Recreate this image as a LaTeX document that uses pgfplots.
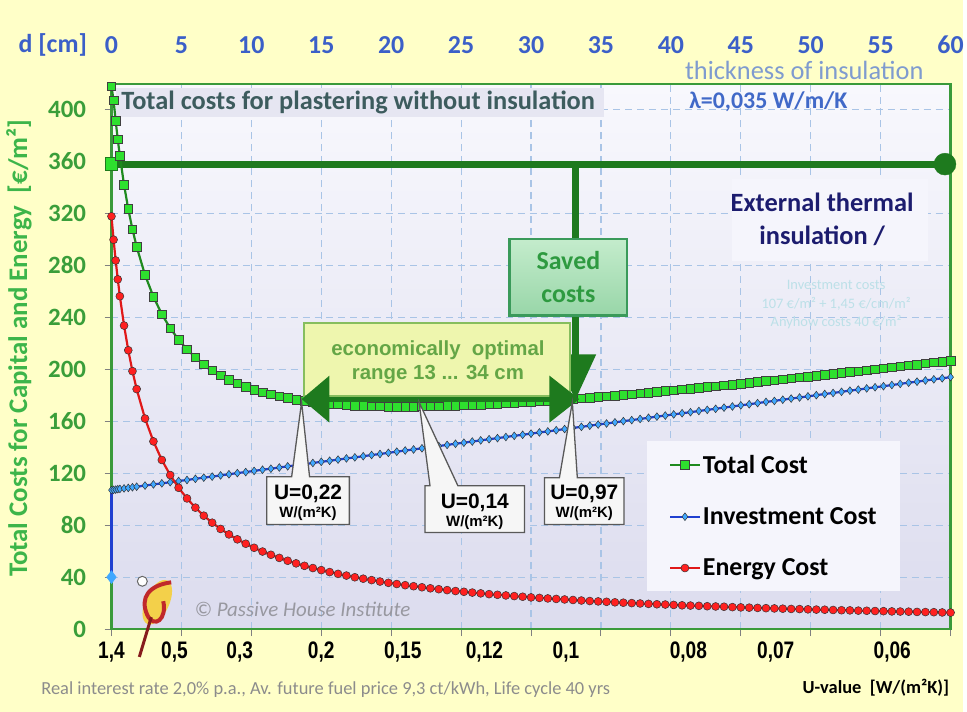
\documentclass[border=0pt]{standalone}
\usepackage{fontspec}
\setmainfont{Carlito}
\newfontfamily\arialfont{Liberation Sans}
\newfontfamily\narrowfont{Liberation Sans}[FakeStretch=0.8]
\usepackage{pgfplots}
\pgfplotsset{compat=1.18}
\usepackage{pgfplotstable}
\usetikzlibrary{arrows.meta}

\definecolor{bgyellow}{HTML}{FFFFC8}
\definecolor{framegreen}{HTML}{3A9A3A}
\definecolor{darkgreen}{HTML}{1E7A1E}
\definecolor{totalfill}{HTML}{2EE02E}
\definecolor{totalline}{HTML}{1E8A1E}
\definecolor{invline}{HTML}{2040D0}
\definecolor{invfill}{HTML}{40A8FF}
\definecolor{energyline}{HTML}{E01818}
\definecolor{energyfill}{HTML}{FF2020}
\definecolor{ytickgreen}{HTML}{3A9E3A}
\definecolor{ylabelgreen}{HTML}{3DB54A}
\definecolor{topblue}{HTML}{3B5FC8}
\definecolor{gridblue}{HTML}{A9C4E6}
\definecolor{plottop}{HTML}{F8F8FD}
\definecolor{plotbot}{HTML}{DCDCEE}
\definecolor{titlefill}{HTML}{E6E6F2}
\definecolor{slate}{HTML}{3D5C5E}
\definecolor{navy}{HTML}{1C1C6E}
\definecolor{faintcyan}{HTML}{BCE0E8}
\definecolor{lambdablue}{HTML}{4169C8}
\definecolor{thickblue}{HTML}{7F9BCF}
\definecolor{savedtop}{HTML}{C4ECCC}
\definecolor{savedbot}{HTML}{98D6A8}
\definecolor{savedborder}{HTML}{3A9A5A}
\definecolor{savedtext}{HTML}{2E9A40}
\definecolor{optfill}{HTML}{EEF6AE}
\definecolor{optdraw}{HTML}{86BE5E}
\definecolor{opttext}{HTML}{64A646}
\definecolor{footgray}{HTML}{8C8C8C}
\definecolor{copygray}{HTML}{9898A0}
\definecolor{legfill}{HTML}{F5F5FC}
\definecolor{calloutfill}{HTML}{F6F6F6}
\definecolor{logoyellow}{HTML}{F3D04A}
\definecolor{logored}{HTML}{C0282A}

\pgfplotstableread{
d I E T
0 107.0 317.8 418.0
0.15 107.2 299.8 407.0
0.3 107.4 283.8 391.2
0.45 107.7 269.3 377.0
0.6 107.9 256.3 364.2
0.9 108.3 233.7 342.0
1.2 108.7 214.7 323.4
1.5 109.2 198.6 307.8
1.8 109.6 184.8 294.4
2.4 110.5 162.1 272.6
3.0 111.4 144.5 255.9
3.6 112.2 130.2 242.4
4.2 113.1 118.6 231.7
4.8 114.0 108.8 222.8
5.4 114.8 100.6 215.4
6.0 115.7 93.5 209.2
6.6 116.6 87.3 203.9
7.2 117.4 81.9 199.3
7.8 118.3 77.1 195.4
8.4 119.2 72.9 192.1
9.0 120.1 69.1 189.2
9.6 120.9 65.7 186.6
10.2 121.8 62.6 184.4
10.8 122.7 59.7 182.4
11.4 123.5 57.2 180.7
12.0 124.4 54.8 179.2
12.6 125.3 52.6 177.9
13.2 126.1 50.6 176.7
13.8 127.0 48.7 175.7
14.4 127.9 47.0 174.9
15.0 128.8 45.4 174.2
15.6 129.6 43.9 173.5
16.2 130.5 42.5 173.0
16.8 131.4 41.2 172.6
17.4 132.2 39.9 172.1
18.0 133.1 38.8 171.9
18.6 134.0 37.7 171.7
19.2 134.8 36.6 171.4
19.8 135.7 35.6 171.3
20.4 136.6 34.7 171.3
21.0 137.5 33.8 171.3
21.6 138.3 33.0 171.3
22.2 139.2 32.2 171.4
22.8 140.1 31.4 171.5
23.4 140.9 30.7 171.6
24.0 141.8 30.0 171.8
24.6 142.7 29.3 172.0
25.2 143.5 28.7 172.2
25.8 144.4 28.1 172.5
26.4 145.3 27.5 172.8
27.0 146.2 26.9 173.1
27.6 147.0 26.4 173.4
28.2 147.9 25.9 173.8
28.8 148.8 25.4 174.2
29.4 149.6 24.9 174.5
30.0 150.5 24.4 174.9
30.6 151.4 24.0 175.4
31.2 152.2 23.6 175.8
31.8 153.1 23.2 176.3
32.4 154.0 22.8 176.8
33.0 154.9 22.4 177.3
33.6 155.7 22.0 177.7
34.2 156.6 21.6 178.2
34.8 157.5 21.3 178.8
35.4 158.3 21.0 179.3
36.0 159.2 20.6 179.8
36.6 160.1 20.3 180.4
37.2 160.9 20.0 180.9
37.8 161.8 19.7 181.5
38.4 162.7 19.4 182.1
39.0 163.6 19.1 182.7
39.6 164.4 18.9 183.3
40.2 165.3 18.6 183.9
40.8 166.2 18.3 184.5
41.4 167.0 18.1 185.1
42.0 167.9 17.9 185.8
42.6 168.8 17.6 186.4
43.2 169.6 17.4 187.0
43.8 170.5 17.2 187.7
44.4 171.4 16.9 188.3
45.0 172.3 16.7 189.0
45.6 173.1 16.5 189.6
46.2 174.0 16.3 190.3
46.8 174.9 16.1 191.0
47.4 175.7 15.9 191.6
48.0 176.6 15.7 192.3
48.6 177.5 15.5 193.0
49.2 178.3 15.4 193.7
49.8 179.2 15.2 194.4
50.4 180.1 15.0 195.1
51.0 181.0 14.9 195.9
51.6 181.8 14.7 196.5
52.2 182.7 14.5 197.2
52.8 183.6 14.4 198.0
53.4 184.4 14.2 198.6
54.0 185.3 14.1 199.4
54.6 186.2 13.9 200.1
55.2 187.0 13.8 200.8
55.8 187.9 13.6 201.5
56.4 188.8 13.5 202.3
57.0 189.7 13.4 203.1
57.6 190.5 13.2 203.7
58.2 191.4 13.1 204.5
58.8 192.3 13.0 205.3
59.4 193.1 12.8 205.9
60.0 194.0 12.7 206.7
}\costdata

\begin{document}
\begin{tikzpicture}
% background in pixel coordinates
\begin{scope}[shift={(-112bp,632bp)}, x=1bp, y=-1bp]
  \fill[bgyellow] (0,0) rectangle (967,715);
  \useasboundingbox (0,0) rectangle (967,715);
\end{scope}

\begin{axis}[
  at={(0,0)}, anchor=south west,
  scale only axis, width=843bp, height=548bp,
  xmin=0, xmax=60, ymin=0, ymax=420,
  clip=false,
  axis background/.style={top color=plottop, bottom color=plotbot},
  axis line style={draw=framegreen, line width=2.2bp},
  xtick={0,5,...,60}, xticklabels={},
  ytick={0,40,...,400},
  xtick pos=left, ytick pos=left,
  tick align=outside, major tick length=7bp,
  tick style={draw=black!50, line width=1bp},
  xmajorgrids, ymajorgrids,
  major grid style={draw=gridblue, line width=1.1bp, dash pattern=on 7bp off 5bp},
  /pgf/number format/assume math mode=true,
  yticklabel style={font=\bfseries\fontsize{25bp}{30bp}\selectfont, text=ytickgreen},
  yticklabel={\pgfmathprintnumber{\tick}\hspace*{15bp}},
  extra x ticks={0,4.5,9.17,15,20.83,26.67,32.5,41.25,47.5,55.83},
  extra x tick labels={{1,4},{0,5},{0,3},{0,2},{0,15},{0,12},{0,1},{0,08},{0,07},{0,06}},
  extra x tick style={grid=none, major tick length=0pt,
     tick label style={font=\narrowfont\bfseries\fontsize{24bp}{28bp}\selectfont, anchor=center, yshift=-23bp}},
  legend style={draw=none, fill=legfill, at={(rel axis cs:0.638,0.345)}, anchor=north west,
     font=\bfseries\fontsize{26bp}{30bp}\selectfont, row sep=29bp, inner xsep=22bp, inner ysep=12bp},
  legend cell align=left,
  legend image code/.code={\draw[mark repeat=2,mark phase=2] plot coordinates {(0bp,0bp)(15bp,0bp)(30bp,0bp)};},
]
% title box inside plot
\fill[titlefill] (axis cs:0.3,394) rectangle (axis cs:35.2,417);
\node[anchor=west, text=slate, font=\bfseries\fontsize{26.5bp}{30bp}\selectfont, inner sep=0pt] at (axis cs:0.7,405.5) {Total costs for plastering without insulation};

% reference level: total costs without insulation
\addplot[darkgreen, line width=7bp, forget plot] coordinates {(0,358) (59.6,358)};
\addplot[only marks, mark=square*, mark size=6.5bp, mark options={fill=totalfill, draw=darkgreen, line width=1bp}, forget plot] coordinates {(0,358)};
\addplot[only marks, mark=*, mark size=11bp, mark options={fill=darkgreen, draw=darkgreen}, forget plot] coordinates {(59.6,358)};

\addplot[totalline, line width=2.2bp, mark=square*, mark size=4.3bp, mark options={fill=totalfill, draw=black!75, line width=0.6bp}] table[x=d,y=T]{\costdata};
\addlegendentry{Total Cost}

\addplot[invline, line width=2.2bp, forget plot] coordinates {(0,40) (0,107)};
\addplot[only marks, mark=diamond*, mark size=6.5bp, mark options={fill=invfill, draw=invfill}, forget plot] coordinates {(0,40)};
\addplot[invline, line width=2.2bp, mark=diamond*, mark size=3.9bp, mark options={fill=invfill, draw=black!80, line width=0.5bp}] table[x=d,y=I]{\costdata};
\addlegendentry{Investment Cost}

\addplot[energyline, line width=2.2bp, mark=*, mark size=4bp, mark options={fill=energyfill, draw=black!80, line width=0.5bp}] table[x=d,y=E]{\costdata};
\addlegendentry{Energy Cost}
\end{axis}

% top axis: insulation thickness
\begin{axis}[
  at={(0,0)}, anchor=south west,
  scale only axis, width=843bp, height=548bp,
  xmin=0, xmax=60, ymin=0, ymax=420,
  axis x line*=top, axis y line=none, axis line style={draw=none},
  xtick={0,5,...,60}, major tick length=0pt,
  /pgf/number format/assume math mode=true,
  xticklabel style={font=\bfseries\fontsize{26bp}{30bp}\selectfont, text=topblue, anchor=center, yshift=39bp},
]
\addplot[draw=none, forget plot] coordinates {(0,0)};
\end{axis}

% annotations in pixel coordinates
\begin{scope}[shift={(-112bp,632bp)}, x=1bp, y=-1bp]
  \node[font=\bfseries\fontsize{26bp}{30bp}\selectfont, text=topblue] at (53,45) {d [cm]};
  \node[fill=bgyellow, inner sep=1.5bp, text=thickblue, font=\fontsize{26.5bp}{30bp}\selectfont] at (808,71) {thickness of insulation};
  \node[text=lambdablue, font=\bfseries\fontsize{24bp}{28bp}\selectfont] at (772,102) {λ=0,035 W/m/K};

  \node[rotate=90, font=\bfseries\fontsize{27bp}{30bp}\selectfont, text=ylabelgreen] at (19,350) {Total Costs for Capital and Energy\ \ [€/m²]};

  \fill[legfill] (735,180) rectangle (932,262);
  \node[align=center, text=navy, font=\bfseries\fontsize{26.5bp}{33bp}\selectfont] at (826,220) {External thermal\\insulation /};
  \node[align=center, text=faintcyan, font=\fontsize{14.5bp}{19bp}\selectfont] at (840,306) {Investment costs\\107 €/m² + 1,45 €/cm/m²\\Anyhow costs 40 €/m²};

  % saved costs arrow and box
  \draw[darkgreen, line width=7bp, -{Triangle[length=46bp,width=40bp]}] (578,164) -- (578,402);
  \node[draw=savedborder, line width=2.5bp, top color=savedtop, bottom color=savedbot, minimum width=118bp, minimum height=77bp, align=center, font=\bfseries\fontsize{26bp}{33bp}\selectfont, text=savedtext] at (571,278.5) {Saved\\costs};

  % optimal range box and double arrow
  \filldraw[fill=optfill, draw=optdraw, line width=2bp] (305,325) rectangle (573,398);
  \node[align=center, text=opttext, font=\arialfont\bfseries\fontsize{20.5bp}{25bp}\selectfont] at (440,364) {economically\ \ optimal\\range 13 ... 34 cm};
  \draw[darkgreen, line width=5bp, {Triangle[length=28bp,width=46bp]}-{Triangle[length=30bp,width=46bp]}] (303,401) -- (582,401);

  % callouts
  \filldraw[fill=calloutfill, draw=black!65, line width=1.3bp] (268,479) -- (293,479) -- (303,404) -- (311,479) -- (351,479) -- (351,527) -- (268,527) -- cycle;
  \node[font=\arialfont\bfseries\fontsize{21bp}{24bp}\selectfont] at (309.5,496) {U=0,22};
  \node[font=\arialfont\bfseries\fontsize{15bp}{18bp}\selectfont] at (309.5,516) {W/(m²K)};
  \filldraw[fill=calloutfill, draw=black!65, line width=1.3bp] (427,488) -- (432,488) -- (421,404) -- (460,488) -- (527,488) -- (527,535) -- (427,535) -- cycle;
  \node[font=\arialfont\bfseries\fontsize{21bp}{24bp}\selectfont] at (477,505) {U=0,14};
  \node[font=\arialfont\bfseries\fontsize{15bp}{18bp}\selectfont] at (477,525) {W/(m²K)};
  \filldraw[fill=calloutfill, draw=black!65, line width=1.3bp] (547,480) -- (562,480) -- (575,404) -- (580,480) -- (627,480) -- (627,527) -- (547,527) -- cycle;
  \node[font=\arialfont\bfseries\fontsize{21bp}{24bp}\selectfont] at (587,496) {U=0,97};
  \node[font=\arialfont\bfseries\fontsize{15bp}{18bp}\selectfont] at (587,516) {W/(m²K)};

  % logo (approximation)
  \fill[logoyellow, rotate around={-25:(158,605)}] (158,605) ellipse [x radius=12, y radius=24];
  \draw[logored, line width=4bp] (172,585) .. controls (150,588) and (140,600) .. (148,618) .. controls (155,632) and (168,622) .. (164,604);
  \draw[logored!70!black, line width=3bp] (152,620) -- (140,660);
  \draw[black!60, line width=1bp, fill=white] (143,584) circle (5);

  \node[anchor=west, font=\itshape\fontsize{21bp}{24bp}\selectfont, text=copygray] at (192,612) {© Passive House Institute};
  \node[anchor=west, font=\fontsize{18.5bp}{21bp}\selectfont, text=footgray] at (38,693) {Real interest rate 2,0\% p.a., Av. future fuel price 9,3 ct/kWh, Life cycle 40 yrs};
  \node[anchor=east, font=\bfseries\fontsize{18.5bp}{22bp}\selectfont] at (957,691) {U-value\ \ [W/(m²K)]};
\end{scope}
\end{tikzpicture}
\end{document}
